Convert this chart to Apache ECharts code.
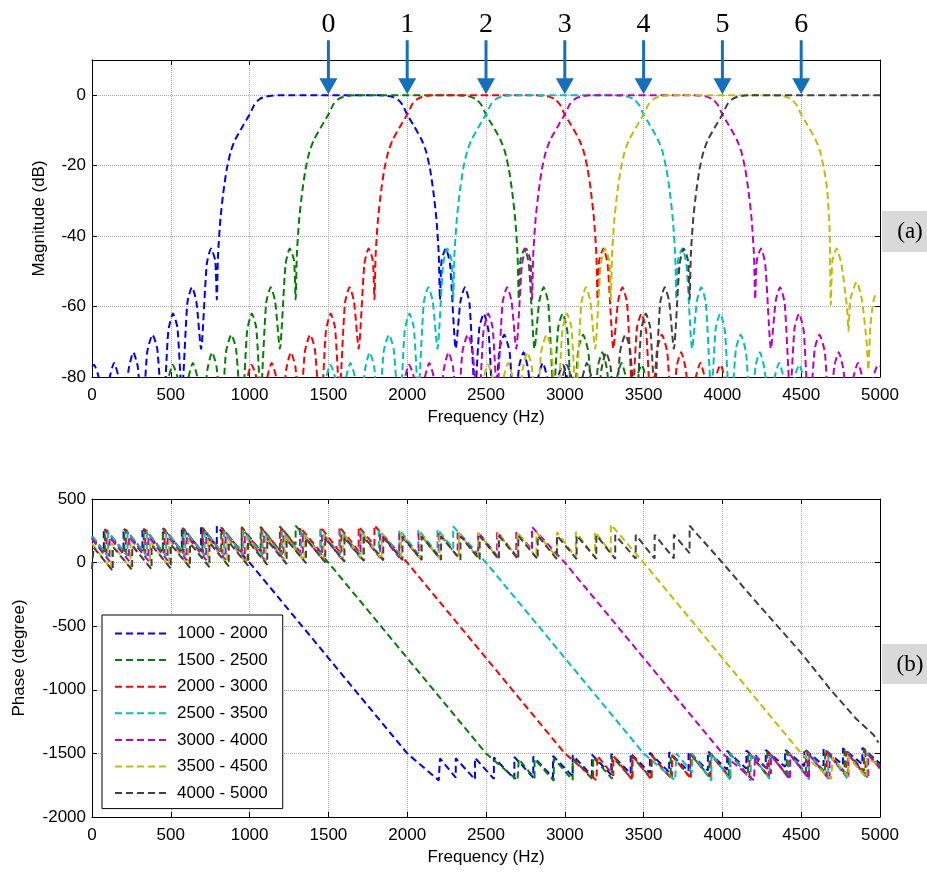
<!DOCTYPE html>
<html><head><meta charset="utf-8">
<script src="https://cdn.jsdelivr.net/npm/echarts/dist/echarts.min.js"></script>
<style>html,body{margin:0;padding:0;background:#fff}#c{width:927px;height:872px}</style>
</head><body><div id="c"></div>
<script>
// ---------- categories / labels ----------
const seriesNames = ['1000 - 2000','1500 - 2500','2000 - 3000','2500 - 3500','3000 - 4000','3500 - 4500','4000 - 5000'];
const seriesColors = ['#0000ff','#008000','#ff0000','#00bfbf','#bf00bf','#bfbf00','#404040'];
const arrowFreqs = [1500,2000,2500,3000,3500,4000,4500];
const arrowLabels = ['0','1','2','3','4','5','6'];

// ---------- magnitude (Hz, dB) ----------
const magnitude_1000_2000 = [[0,-77],[12,-76.5],[42,-80],[75,-92],[108,-81],[140,-76],[168,-80],[200,-92],[232,-78],[262,-73],[290,-77],[320,-92],[350,-73],[384,-68],[414,-72],[450,-92],[484,-67],[514,-62],[542,-66],[570,-85],[605,-59],[634,-54.5],[662,-58.5],[692,-72],[728,-48],[755,-43.5],[782,-47],[792,-58],[800,-45],[815,-35],[835,-27],[855,-21],[880,-16],[910,-12.5],[960,-8.5],[1000,-5.5],[1030,-2.7],[1060,-1.2],[1100,-0.4],[1180,0],[1820,0],[1900,-0.4],[1940,-1.2],[1970,-2.7],[2000,-5.5],[2040,-8.5],[2090,-12.5],[2120,-16],[2145,-21],[2165,-27],[2185,-35],[2200,-45],[2208,-58],[2218,-47],[2245,-43.5],[2272,-48],[2308,-72],[2338,-58.5],[2366,-54.5],[2395,-59],[2430,-85],[2458,-66],[2486,-62],[2516,-67],[2550,-92],[2586,-72],[2616,-68],[2650,-73],[2680,-92],[2710,-77],[2738,-73],[2768,-78],[2800,-92],[2832,-80],[2860,-76],[2892,-81],[2925,-92],[2958,-80],[2988,-76.5],[3018,-81],[3050,-92]];
const magnitude_1500_2500 = [[450,-92],[482,-81],[512,-76.5],[542,-80],[575,-92],[608,-81],[640,-76],[668,-80],[700,-92],[732,-78],[762,-73],[790,-77],[820,-92],[850,-73],[884,-68],[914,-72],[950,-92],[984,-67],[1014,-62],[1042,-66],[1070,-85],[1105,-59],[1134,-54.5],[1162,-58.5],[1192,-72],[1228,-48],[1255,-43.5],[1282,-47],[1292,-58],[1300,-45],[1315,-35],[1335,-27],[1355,-21],[1380,-16],[1410,-12.5],[1460,-8.5],[1500,-5.5],[1530,-2.7],[1560,-1.2],[1600,-0.4],[1680,0],[2320,0],[2400,-0.4],[2440,-1.2],[2470,-2.7],[2500,-5.5],[2540,-8.5],[2590,-12.5],[2620,-16],[2645,-21],[2665,-27],[2685,-35],[2700,-45],[2708,-58],[2718,-47],[2745,-43.5],[2772,-48],[2808,-72],[2838,-58.5],[2866,-54.5],[2895,-59],[2930,-85],[2958,-66],[2986,-62],[3016,-67],[3050,-92],[3086,-72],[3116,-68],[3150,-73],[3180,-92],[3210,-77],[3238,-73],[3268,-78],[3300,-92],[3332,-80],[3360,-76],[3392,-81],[3425,-92],[3458,-80],[3488,-76.5],[3518,-81],[3550,-92]];
const magnitude_2000_3000 = [[950,-92],[982,-81],[1012,-76.5],[1042,-80],[1075,-92],[1108,-81],[1140,-76],[1168,-80],[1200,-92],[1232,-78],[1262,-73],[1290,-77],[1320,-92],[1350,-73],[1384,-68],[1414,-72],[1450,-92],[1484,-67],[1514,-62],[1542,-66],[1570,-85],[1605,-59],[1634,-54.5],[1662,-58.5],[1692,-72],[1728,-48],[1755,-43.5],[1782,-47],[1792,-58],[1800,-45],[1815,-35],[1835,-27],[1855,-21],[1880,-16],[1910,-12.5],[1960,-8.5],[2000,-5.5],[2030,-2.7],[2060,-1.2],[2100,-0.4],[2180,0],[2820,0],[2900,-0.4],[2940,-1.2],[2970,-2.7],[3000,-5.5],[3040,-8.5],[3090,-12.5],[3120,-16],[3145,-21],[3165,-27],[3185,-35],[3200,-45],[3208,-58],[3218,-47],[3245,-43.5],[3272,-48],[3308,-72],[3338,-58.5],[3366,-54.5],[3395,-59],[3430,-85],[3458,-66],[3486,-62],[3516,-67],[3550,-92],[3586,-72],[3616,-68],[3650,-73],[3680,-92],[3710,-77],[3738,-73],[3768,-78],[3800,-92],[3832,-80],[3860,-76],[3892,-81],[3925,-92],[3958,-80],[3988,-76.5],[4018,-81],[4050,-92]];
const magnitude_2500_3500 = [[1450,-92],[1482,-81],[1512,-76.5],[1542,-80],[1575,-92],[1608,-81],[1640,-76],[1668,-80],[1700,-92],[1732,-78],[1762,-73],[1790,-77],[1820,-92],[1850,-73],[1884,-68],[1914,-72],[1950,-92],[1984,-67],[2014,-62],[2042,-66],[2070,-85],[2105,-59],[2134,-54.5],[2162,-58.5],[2192,-72],[2228,-48],[2255,-43.5],[2282,-47],[2292,-58],[2300,-45],[2315,-35],[2335,-27],[2355,-21],[2380,-16],[2410,-12.5],[2460,-8.5],[2500,-5.5],[2530,-2.7],[2560,-1.2],[2600,-0.4],[2680,0],[3320,0],[3400,-0.4],[3440,-1.2],[3470,-2.7],[3500,-5.5],[3540,-8.5],[3590,-12.5],[3620,-16],[3645,-21],[3665,-27],[3685,-35],[3700,-45],[3708,-58],[3718,-47],[3745,-43.5],[3772,-48],[3808,-72],[3838,-58.5],[3866,-54.5],[3895,-59],[3930,-85],[3958,-66],[3986,-62],[4016,-67],[4050,-92],[4086,-72],[4116,-68],[4150,-73],[4180,-92],[4210,-77],[4238,-73],[4268,-78],[4300,-92],[4332,-80],[4360,-76],[4392,-81],[4425,-92],[4458,-80],[4488,-76.5],[4518,-81],[4550,-92]];
const magnitude_3000_4000 = [[1950,-92],[1982,-81],[2012,-76.5],[2042,-80],[2075,-92],[2108,-81],[2140,-76],[2168,-80],[2200,-92],[2232,-78],[2262,-73],[2290,-77],[2320,-92],[2350,-73],[2384,-68],[2414,-72],[2450,-92],[2484,-67],[2514,-62],[2542,-66],[2570,-85],[2605,-59],[2634,-54.5],[2662,-58.5],[2692,-72],[2728,-48],[2755,-43.5],[2782,-47],[2792,-58],[2800,-45],[2815,-35],[2835,-27],[2855,-21],[2880,-16],[2910,-12.5],[2960,-8.5],[3000,-5.5],[3030,-2.7],[3060,-1.2],[3100,-0.4],[3180,0],[3820,0],[3900,-0.4],[3940,-1.2],[3970,-2.7],[4000,-5.5],[4040,-8.5],[4090,-12.5],[4120,-16],[4145,-21],[4165,-27],[4185,-35],[4200,-45],[4208,-58],[4218,-47],[4245,-43.5],[4272,-48],[4308,-72],[4338,-58.5],[4366,-54.5],[4395,-59],[4430,-85],[4458,-66],[4486,-62],[4516,-67],[4550,-92],[4586,-72],[4616,-68],[4650,-73],[4680,-92],[4710,-77],[4738,-73],[4768,-78],[4800,-92],[4832,-80],[4860,-76],[4892,-81],[4925,-92],[4958,-80],[4988,-76.5],[5000,-77]];
const magnitude_3500_4500 = [[2450,-92],[2482,-81],[2512,-76.5],[2542,-80],[2575,-92],[2608,-81],[2640,-76],[2668,-80],[2700,-92],[2732,-78],[2762,-73],[2790,-77],[2820,-92],[2850,-73],[2884,-68],[2914,-72],[2950,-92],[2984,-67],[3014,-62],[3042,-66],[3070,-85],[3105,-59],[3134,-54.5],[3162,-58.5],[3192,-72],[3228,-48],[3255,-43.5],[3282,-47],[3292,-58],[3300,-45],[3315,-35],[3335,-27],[3355,-21],[3380,-16],[3410,-12.5],[3460,-8.5],[3500,-5.5],[3530,-2.7],[3560,-1.2],[3600,-0.4],[3680,0],[4320,0],[4400,-0.4],[4440,-1.2],[4470,-2.7],[4500,-5.5],[4540,-8.5],[4590,-12.5],[4620,-16],[4645,-21],[4665,-27],[4680,-38],[4688,-59.5],[4698,-47],[4725,-43.5],[4755,-48],[4790,-60],[4800,-67],[4812,-58],[4852,-53],[4885,-58],[4915,-70],[4926,-78],[4940,-65],[4968,-57],[4990,-57]];
const magnitude_4000_5000 = [[2950,-92],[2982,-81],[3012,-76.5],[3042,-80],[3075,-92],[3108,-81],[3140,-76],[3168,-80],[3200,-92],[3232,-78],[3262,-73],[3290,-77],[3320,-92],[3350,-73],[3384,-68],[3414,-72],[3450,-92],[3484,-67],[3514,-62],[3542,-66],[3570,-85],[3605,-59],[3634,-54.5],[3662,-58.5],[3692,-72],[3728,-48],[3755,-43.5],[3782,-47],[3792,-58],[3800,-45],[3815,-35],[3835,-27],[3855,-21],[3880,-16],[3910,-12.5],[3960,-8.5],[4000,-5.5],[4030,-2.7],[4060,-1.2],[4100,-0.4],[4180,0],[5000,0]];

// ---------- phase (Hz, degree) ----------
const phase_1000_2000 = [[0,194],[75,80],[75,270],[200,80],[200,270],[320,85],[320,272],[450,80],[450,272],[570,90],[570,275],[692,95],[692,275],[792,130],[792,285],[1000,0],[2000,-1500],[2200,-1712],[2208,-1540],[2308,-1690],[2308,-1538],[2430,-1705],[2430,-1535],[2550,-1700],[2550,-1532],[2680,-1700],[2680,-1528],[2800,-1690],[2800,-1525],[2925,-1690],[2925,-1520],[3050,-1680],[3050,-1515],[3172,-1675],[3172,-1510],[3295,-1668],[3295,-1505],[3418,-1660],[3418,-1500],[3540,-1655],[3540,-1495],[3662,-1648],[3662,-1490],[3785,-1640],[3785,-1487],[3908,-1635],[3908,-1483],[4030,-1628],[4030,-1480],[4152,-1620],[4152,-1477],[4275,-1612],[4275,-1473],[4398,-1605],[4398,-1470],[4520,-1600],[4520,-1466],[4642,-1595],[4642,-1463],[4765,-1590],[4765,-1460],[4888,-1585],[4888,-1455],[5000,-1580]];
const phase_1500_2500 = [[0,200],[82,72],[82,262],[205,75],[205,265],[328,77],[328,268],[450,80],[450,270],[575,82],[575,272],[700,84],[700,275],[820,86],[820,277],[950,88],[950,280],[1070,92],[1070,282],[1192,95],[1192,285],[1292,140],[1292,290],[1500,0],[2500,-1500],[2700,-1712],[2708,-1545],[2808,-1695],[2808,-1545],[2930,-1715],[2930,-1540],[3050,-1710],[3050,-1535],[3180,-1710],[3180,-1530],[3300,-1700],[3300,-1525],[3425,-1700],[3425,-1520],[3550,-1695],[3550,-1515],[3672,-1690],[3672,-1510],[3795,-1685],[3795,-1505],[3918,-1680],[3918,-1500],[4040,-1675],[4040,-1495],[4162,-1670],[4162,-1490],[4285,-1665],[4285,-1485],[4408,-1660],[4408,-1480],[4530,-1655],[4530,-1475],[4652,-1650],[4652,-1470],[4775,-1645],[4775,-1465],[4898,-1640],[4898,-1460],[5000,-1605]];
const phase_2000_3000 = [[0,208],[92,65],[92,257],[215,67],[215,259],[338,69],[338,261],[460,71],[460,263],[582,73],[582,265],[705,75],[705,267],[828,77],[828,269],[950,79],[950,271],[1075,81],[1075,273],[1200,83],[1200,275],[1320,85],[1320,277],[1450,87],[1450,279],[1570,89],[1570,281],[1692,91],[1692,283],[1792,135],[1792,292],[2000,0],[3000,-1500],[3200,-1712],[3208,-1520],[3308,-1675],[3308,-1520],[3430,-1710],[3430,-1518],[3550,-1708],[3550,-1515],[3680,-1705],[3680,-1512],[3800,-1700],[3800,-1510],[3925,-1700],[3925,-1505],[4050,-1695],[4050,-1502],[4172,-1690],[4172,-1500],[4295,-1690],[4295,-1495],[4418,-1685],[4418,-1492],[4540,-1682],[4540,-1490],[4662,-1680],[4662,-1487],[4785,-1678],[4785,-1484],[4908,-1675],[4908,-1480],[5000,-1620]];
const phase_2500_3500 = [[0,209],[102,50],[102,241],[225,52],[225,242],[348,53],[348,243],[470,54],[470,244],[592,55],[592,245],[715,56],[715,246],[838,57],[838,247],[960,58],[960,248],[1082,59],[1082,249],[1205,60],[1205,250],[1328,61],[1328,252],[1450,62],[1450,253],[1575,64],[1575,255],[1700,65],[1700,256],[1820,67],[1820,257],[1950,68],[1950,258],[2070,69],[2070,260],[2192,70],[2192,262],[2292,110],[2292,285],[2500,0],[3500,-1500],[3700,-1712],[3708,-1500],[3808,-1650],[3808,-1500],[3930,-1715],[3930,-1500],[4050,-1710],[4050,-1500],[4180,-1715],[4180,-1500],[4300,-1700],[4300,-1500],[4425,-1705],[4425,-1500],[4550,-1705],[4550,-1500],[4672,-1700],[4672,-1500],[4795,-1700],[4795,-1500],[4918,-1700],[4918,-1500],[5000,-1620]];
const phase_3000_4000 = [[0,184],[112,10],[112,200],[235,12],[235,202],[358,14],[358,204],[480,16],[480,206],[602,18],[602,208],[725,20],[725,210],[848,22],[848,212],[970,24],[970,214],[1092,26],[1092,216],[1215,28],[1215,218],[1338,30],[1338,220],[1460,32],[1460,222],[1582,34],[1582,224],[1705,36],[1705,226],[1828,38],[1828,228],[1950,40],[1950,230],[2075,42],[2075,232],[2200,44],[2200,235],[2320,47],[2320,238],[2450,50],[2450,240],[2570,52],[2570,243],[2692,55],[2692,245],[2792,100],[2792,280],[3000,0],[4000,-1500],[4200,-1712],[4208,-1510],[4308,-1660],[4308,-1510],[4430,-1705],[4430,-1510],[4550,-1700],[4550,-1510],[4680,-1705],[4680,-1510],[4800,-1690],[4800,-1510],[4925,-1695],[4925,-1510],[5000,-1600]];
const phase_3500_4500 = [[0,150],[122,-50],[122,156],[245,-44],[245,162],[368,-38],[368,168],[490,-32],[490,174],[612,-26],[612,180],[735,-20],[735,186],[858,-14],[858,192],[980,-8],[980,198],[1102,-2],[1102,204],[1225,4],[1225,210],[1348,10],[1348,216],[1470,16],[1470,222],[1592,22],[1592,226],[1715,26],[1715,229],[1838,29],[1838,231],[1960,31],[1960,232],[2082,32],[2082,233],[2205,33],[2205,234],[2328,34],[2328,235],[2450,35],[2450,236],[2575,36],[2575,237],[2700,37],[2700,238],[2820,38],[2820,239],[2950,39],[2950,240],[3070,40],[3070,241],[3192,41],[3192,242],[3292,77],[3292,300],[3500,0],[4500,-1500],[4690,-1700],[4700,-1530],[4800,-1685],[4800,-1530],[4915,-1690],[4915,-1540],[5000,-1590]];
const phase_4000_5000 = [[0,-50],[10,-62],[10,120],[132,-65],[132,126],[255,-59],[255,132],[378,-53],[378,138],[500,-47],[500,144],[622,-41],[622,150],[745,-35],[745,156],[868,-29],[868,162],[990,-23],[990,168],[1112,-17],[1112,174],[1235,-11],[1235,180],[1358,-5],[1358,186],[1480,1],[1480,192],[1602,7],[1602,198],[1725,13],[1725,202],[1848,17],[1848,204],[1970,19],[1970,205],[2092,20],[2092,206],[2215,21],[2215,207],[2338,22],[2338,208],[2460,23],[2460,209],[2582,24],[2582,210],[2705,25],[2705,211],[2828,26],[2828,212],[2950,27],[2950,213],[3075,28],[3075,214],[3200,29],[3200,215],[3320,30],[3320,216],[3450,31],[3450,217],[3570,32],[3570,218],[3692,33],[3692,220],[3792,75],[3792,290],[4000,0],[4200,-290],[4500,-710],[4683,-994],[4850,-1230],[4960,-1355],[4990,-1415]];

const magnitudeSets = [magnitude_1000_2000,magnitude_1500_2500,magnitude_2000_3000,magnitude_2500_3500,magnitude_3000_4000,magnitude_3500_4500,magnitude_4000_5000];
const phaseSets = [phase_1000_2000,phase_1500_2500,phase_2000_3000,phase_2500_3500,phase_3000_4000,phase_3500_4500,phase_4000_5000];

// ---------- chart ----------
const FONT = '"Liberation Sans", Arial, sans-serif';
const ARROW = '#1470bd';
const DASH = [7, 4];

function mainX(grid, name) {
  return {
    gridIndex: grid, type: 'value', min: 0, max: 5000, interval: 500,
    name: name, nameLocation: 'middle', nameGap: 32,
    nameTextStyle: {fontFamily: FONT, fontSize: 17, color: '#000'},
    axisLine: {show: true, onZero: false, lineStyle: {color: '#000', width: 1}},
    axisTick: {show: true, inside: true, length: 5, lineStyle: {color: '#000'}},
    axisLabel: {fontFamily: FONT, fontSize: 17, color: '#000', margin: 10,
      formatter: function (v) { return String(v); }},
    splitLine: {show: true, lineStyle: {color: '#a8a8a8', type: 'dotted', width: 1}}
  };
}
function boxX(grid) {
  return {
    gridIndex: grid, type: 'value', position: 'top', min: 0, max: 5000, interval: 500,
    axisLine: {show: true, onZero: false, lineStyle: {color: '#000', width: 1}},
    axisTick: {show: true, inside: true, length: 5, lineStyle: {color: '#000'}},
    axisLabel: {show: false}, splitLine: {show: false}
  };
}
function mainY(grid, min, max, interval, name, gap, hideAbove) {
  return {
    gridIndex: grid, type: 'value', min: min, max: max, interval: interval,
    name: name, nameLocation: 'middle', nameGap: gap, nameRotate: 90,
    nameTextStyle: {fontFamily: FONT, fontSize: 17, color: '#000'},
    axisLine: {show: true, onZero: false, lineStyle: {color: '#000', width: 1}},
    axisTick: {show: true, inside: true, length: 5, lineStyle: {color: '#000'}},
    axisLabel: {fontFamily: FONT, fontSize: 17, color: '#000', margin: 6,
      formatter: function (v) { return v > hideAbove ? '' : String(v); }},
    splitLine: {show: true, lineStyle: {color: '#a8a8a8', type: 'dotted', width: 1}}
  };
}
function boxY(grid, min, max, interval) {
  return {
    gridIndex: grid, type: 'value', position: 'right', min: min, max: max, interval: interval,
    axisLine: {show: true, onZero: false, lineStyle: {color: '#000', width: 1}},
    axisTick: {show: true, inside: true, length: 5, lineStyle: {color: '#000'}},
    axisLabel: {show: false}, splitLine: {show: false}
  };
}

const series = [];
magnitudeSets.forEach(function (d, i) {
  series.push({
    name: seriesNames[i], type: 'line', xAxisIndex: 0, yAxisIndex: 0, data: d,
    symbol: 'none', showSymbol: false, clip: true, smooth: 0.2,
    lineStyle: {color: seriesColors[i], width: 2, type: DASH},
    itemStyle: {color: seriesColors[i]}
  });
});
phaseSets.forEach(function (d, i) {
  series.push({
    name: seriesNames[i], type: 'line', xAxisIndex: 2, yAxisIndex: 2, data: d,
    symbol: 'none', showSymbol: false, clip: true,
    lineStyle: {color: seriesColors[i], width: 2, type: DASH},
    itemStyle: {color: seriesColors[i]}
  });
});
series.push({
  type: 'custom', xAxisIndex: 0, yAxisIndex: 0, clip: false, silent: true, z: 10,
  data: arrowFreqs.map(function (f) { return [f, 0]; }),
  renderItem: function (params, api) {
    const p = api.coord([api.value(0), api.value(1)]);
    const x = p[0], y = p[1];
    return {type: 'group', children: [
      {type: 'rect', shape: {x: x - 1.5, y: y - 55, width: 3, height: 40}, style: {fill: ARROW}},
      {type: 'polygon', shape: {points: [[x - 9, y - 17], [x + 9, y - 17], [x, y - 1]]}, style: {fill: ARROW}},
      {type: 'text', x: x, y: y - 71, style: {text: arrowLabels[params.dataIndex], fill: '#000',
        font: '28px "Liberation Serif", "Times New Roman", serif', align: 'center', verticalAlign: 'middle'}}
    ]};
  }
});

const chart = echarts.init(document.getElementById('c'), null, {renderer: 'canvas'});
chart.setOption({
  animation: false,
  backgroundColor: '#fff',
  grid: [
    {left: 92, top: 60, width: 788, height: 317},
    {left: 92, top: 499, width: 788, height: 318}
  ],
  xAxis: [mainX(0, 'Frequency (Hz)'), boxX(0), mainX(1, 'Frequency (Hz)'), boxX(1)],
  yAxis: [
    mainY(0, -80, 10, 20, 'Magnitude (dB)', 44, 0), boxY(0, -80, 10, 20),
    mainY(1, -2000, 500, 500, 'Phase (degree)', 64, 500), boxY(1, -2000, 500, 500)
  ],
  legend: {
    data: seriesNames, orient: 'vertical', left: 102, top: 615,
    itemWidth: 54, itemHeight: 14, itemGap: 9.6,
    padding: [10, 15, 7, 12], backgroundColor: '#fff', borderColor: '#000', borderWidth: 1, borderRadius: 0,
    itemStyle: {color: 'rgba(0,0,0,0)', borderColor: 'rgba(0,0,0,0)', borderWidth: 0, opacity: 0},
    textStyle: {fontSize: 17, fontFamily: FONT, color: '#000', lineHeight: 17, padding: [0, 0, 0, 3]},
    selectedMode: false
  },
  graphic: [
    {type: 'rect', shape: {x: 882, y: 211, width: 45, height: 41}, style: {fill: '#d9d9d9'}},
    {type: 'text', x: 910, y: 232, style: {text: '(a)', font: '23px "Liberation Serif", "Times New Roman", serif', fill: '#000', align: 'center', verticalAlign: 'middle'}},
    {type: 'rect', shape: {x: 882, y: 644, width: 45, height: 40}, style: {fill: '#d9d9d9'}},
    {type: 'text', x: 910, y: 665, style: {text: '(b)', font: '23px "Liberation Serif", "Times New Roman", serif', fill: '#000', align: 'center', verticalAlign: 'middle'}}
  ],
  series: series
});
</script>
</body></html>
